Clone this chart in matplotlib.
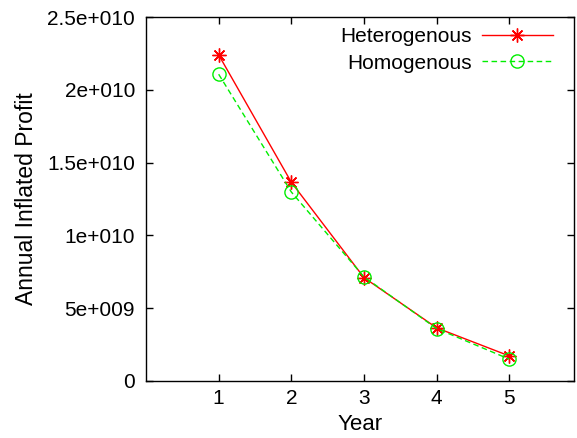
import numpy as np
import matplotlib
matplotlib.use("Agg")
import matplotlib.pyplot as plt

plt.rcParams["font.family"] = ["Liberation Sans", "DejaVu Sans"]

years = [1, 2, 3, 4, 5]
heterogenous = [2.24e10, 1.365e10, 7.1e9, 3.65e9, 1.72e9]
homogenous = [2.107e10, 1.298e10, 7.15e9, 3.6e9, 1.5e9]
yticks = [0, 5e9, 1e10, 1.5e10, 2e10, 2.5e10]
ytick_labels = ["0", "5e+009", "1e+010", "1.5e+010", "2e+010", "2.5e+010"]

fig = plt.figure(figsize=(5.77, 4.38), dpi=100)
ax = fig.add_axes([146 / 577, 1 - 381 / 438, (574 - 146) / 577, (381 - 17) / 438])

ax.plot(years, heterogenous, color="#ff0000", lw=1.0, marker=(8, 2, 0),
        ms=10, mew=1.0, label="Heterogenous")
ax.plot(years, homogenous, color="#00ee00", lw=1.0, ls=(0, (4, 2.5)),
        marker="o", ms=9.5, mfc="none", mew=1.0, label="Homogenous")

ax.set_xlim(0, 5.89)
ax.set_ylim(0, 2.5e10)
ax.set_xticks(years)
ax.set_yticks(yticks)
ax.set_yticklabels(ytick_labels)
ax.tick_params(direction="in", length=5, width=1, top=True, right=True,
               labelsize=15)
ax.tick_params(axis="x", pad=6)
ax.tick_params(axis="y", pad=8)
for s in ax.spines.values():
    s.set_linewidth(1.0)

ax.set_xlabel("Year", fontsize=16, va="top")
ax.xaxis.set_label_coords(0.5, -0.09)
ax.set_ylabel("Annual Inflated Profit", fontsize=16.5)
ax.yaxis.set_label_coords(-0.253, 0.5)

leg = ax.legend(loc="upper right", bbox_to_anchor=(0.965, 0.989), frameon=False,
                markerfirst=False, fontsize=15, handlelength=3.4,
                handletextpad=0.5, borderaxespad=0, borderpad=0.3,
                labelspacing=0.35)
for t in leg.get_texts():
    t.set_ha("right")
leg._legend_box.align = "right"

fig.savefig("out.png", dpi=100)
